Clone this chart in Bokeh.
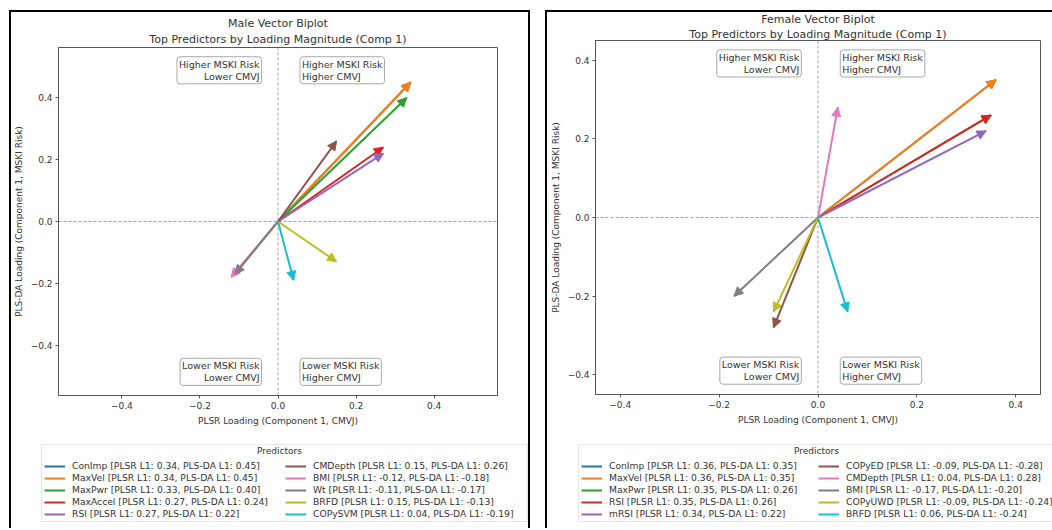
from bokeh.plotting import figure
from bokeh.models import (Arrow, NormalHead, Span, Label, Legend, LegendItem, FixedTicker,
                          Range1d, Spacer, Title)
from bokeh.layouts import row, column
from bokeh.embed import file_html
from bokeh.resources import INLINE

COLORS = ["#1f77b4", "#ff7f0e", "#2ca02c", "#d62728", "#9467bd",
          "#8c564b", "#e377c2", "#7f7f7f", "#bcbd22", "#17becf"]

male_names = ["ConImp", "MaxVel", "MaxPwr", "MaxAccel", "RSI",
              "CMDepth", "BMI", "Wt", "BRFD", "COPySVM"]
male_plsr = [0.34, 0.34, 0.33, 0.27, 0.27, 0.15, -0.12, -0.11, 0.15, 0.04]
male_plsda = [0.45, 0.45, 0.40, 0.24, 0.22, 0.26, -0.18, -0.17, -0.13, -0.19]

female_names = ["ConImp", "MaxVel", "MaxPwr", "RSI", "mRSI",
                "COPyED", "CMDepth", "BMI", "COPyUWD", "BRFD"]
female_plsr = [0.36, 0.36, 0.35, 0.35, 0.34, -0.09, 0.04, -0.17, -0.09, 0.06]
female_plsda = [0.35, 0.35, 0.26, 0.26, 0.22, -0.28, 0.28, -0.20, -0.24, -0.24]

tick_values = [-0.4, -0.2, 0.0, 0.2, 0.4]
tick_labels = ["\u22120.4", "\u22120.2", "0.0", "0.2", "0.4"]

FONT = "DejaVu Sans"
TXT = "#333333"


def biplot(title1, names, xs, ys, width, main_h, leg_h, mb_left, mb_right, mb_top, mb_bottom,
           t2_standoff, leg_x, leg_y, label_w, shadow_p, shadow_q):
    lim = 1.25 * max(max(abs(v) for v in xs), max(abs(v) for v in ys))
    p = figure(width=width, height=main_h, output_backend="svg", toolbar_location=None,
               x_range=Range1d(-lim, lim), y_range=Range1d(-lim, lim),
               min_border_left=mb_left, min_border_right=mb_right,
               min_border_top=mb_top, min_border_bottom=mb_bottom,
               title=title1, styles={"box-shadow": shadow_p})
    p.border_fill_color = None
    p.title.align = "center"
    p.title.text_font = FONT
    p.title.text_font_size = "11px"
    p.title.text_font_style = "normal"
    p.title.text_color = TXT
    p.title.text_line_height = 1.0
    p.title.standoff = 0
    p.add_layout(Title(text="Top Predictors by Loading Magnitude (Comp 1)", align="center",
                       text_font=FONT, text_font_size="11px", text_font_style="normal",
                       text_color=TXT, text_line_height=1.0, standoff=t2_standoff), "above")

    p.grid.visible = False
    p.outline_line_color = "#555555"
    p.outline_line_width = 1
    for ax, lab in ((p.xaxis, "PLSR Loading (Component 1, CMVJ)"),
                    (p.yaxis, "PLS-DA Loading (Component 1, MSKI Risk)")):
        ax.ticker = FixedTicker(ticks=tick_values)
        ax.major_label_overrides = {v: s for v, s in zip(tick_values, tick_labels)}
        ax.axis_label = lab
        ax.axis_label_text_font = FONT
        ax.axis_label_text_font_size = "9px"
        ax.axis_label_text_font_style = "normal"
        ax.axis_label_text_color = TXT
        ax.major_label_text_font = FONT
        ax.major_label_text_font_size = "9px"
        ax.major_label_text_color = TXT
        ax.minor_tick_line_color = None
        ax.major_tick_in = 0
        ax.major_tick_out = 3
        ax.major_tick_line_color = "#555555"
        ax.axis_line_color = "#555555"
        ax.axis_label_standoff = 4
        ax.major_label_standoff = 3

    p.add_layout(Span(location=0, dimension="height", line_color="#888888",
                      line_dash="3 2", line_width=0.8))
    p.add_layout(Span(location=0, dimension="width", line_color="#888888",
                      line_dash="3 2", line_width=0.8))

    # legend strip below the chart
    q = figure(width=width, height=leg_h, output_backend="svg", toolbar_location=None,
               x_range=Range1d(-1, 1), y_range=Range1d(-1, 1),
               x_axis_type=None, y_axis_type=None,
               min_border_left=0, min_border_right=0, min_border_top=0, min_border_bottom=0,
               styles={"box-shadow": shadow_q})
    q.grid.visible = False
    q.outline_line_color = None
    q.border_fill_color = None
    q.background_fill_color = None

    items = []
    for name, x, y, c in zip(names, xs, ys, COLORS):
        p.line(x=[0, x], y=[0, y], line_color=c, line_width=2)
        p.add_layout(Arrow(x_start=0, y_start=0, x_end=x, y_end=y, line_alpha=0,
                           end=NormalHead(size=9, fill_color=c, line_color=c, line_width=1)))
        # off-range proxy line used only for the legend swatch
        r = q.line(x=[5, 6], y=[5, 6], line_color=c, line_width=2)
        items.append(LegendItem(label=f"{name} [PLSR L1: {x:.2f}, PLS-DA L1: {y:.2f}]",
                                renderers=[r]))

    quads = [("Higher MSKI Risk\nLower CMVJ", -0.075, 0.947, "right", "top"),
             ("Higher MSKI Risk\nHigher CMVJ", 0.10, 0.947, "left", "top"),
             ("Lower MSKI Risk\nLower CMVJ", -0.075, -0.942, "right", "bottom"),
             ("Lower MSKI Risk\nHigher CMVJ", 0.10, -0.942, "left", "bottom")]
    for text, fx, fy, al, bl in quads:
        p.add_layout(Label(x=fx * lim, y=fy * lim, text=text, text_align=al, text_baseline=bl,
                           text_font=FONT, text_font_size="9.5px", text_color=TXT,
                           text_line_height=1.1,
                           background_fill_color="white", background_fill_alpha=0.8,
                           border_line_color="#aaaaaa", border_line_width=1,
                           padding=2, border_radius=3))

    leg = Legend(items=items, location=(leg_x, leg_y), ncols=2, nrows=5,
                 title="\u00a0",
                 title_text_font=FONT, title_text_font_size="9px", title_text_color=TXT,
                 title_standoff=3,
                 label_text_font=FONT, label_text_font_size="9.2px", label_text_color=TXT,
                 glyph_width=21, glyph_height=10, label_height=10, label_standoff=7,
                 label_width=label_w, spacing=1, padding=2, margin=0,
                 border_line_color="#cccccc", border_line_width=1,
                 background_fill_alpha=0)
    q.add_layout(leg)
    cx = (leg_x + 238 - width / 2) / (width / 2)
    q.add_layout(Label(x=cx, y=1, y_offset=-15, text="Predictors", text_align="center",
                       text_baseline="middle", text_font=FONT, text_font_size="9px",
                       text_color=TXT))
    return column(p, row(q), spacing=0)


panel1 = biplot("Male Vector Biplot", male_names, male_plsr, male_plsda,
                521, 425, 93, 49, 33, 37, 40, 3, 32, 6, 212,
                "inset 2px 2px 0 0 #000, inset -2px 0 0 0 #000",
                "inset 2px 0 0 0 #000, inset -2px 0 0 0 #000")
panel2 = biplot("Female Vector Biplot", female_names, female_plsr, female_plsda,
                507, 425, 93, 50, 12, 30, 41, 0, 33, 6, 208,
                "inset 2px 2px 0 0 #000",
                "inset 2px 0 0 0 #000")

layout = column(Spacer(height=10),
                row(Spacer(width=9), panel1, Spacer(width=15), panel2, spacing=0),
                spacing=0)
open("out.html", "w").write(file_html(layout, INLINE))
